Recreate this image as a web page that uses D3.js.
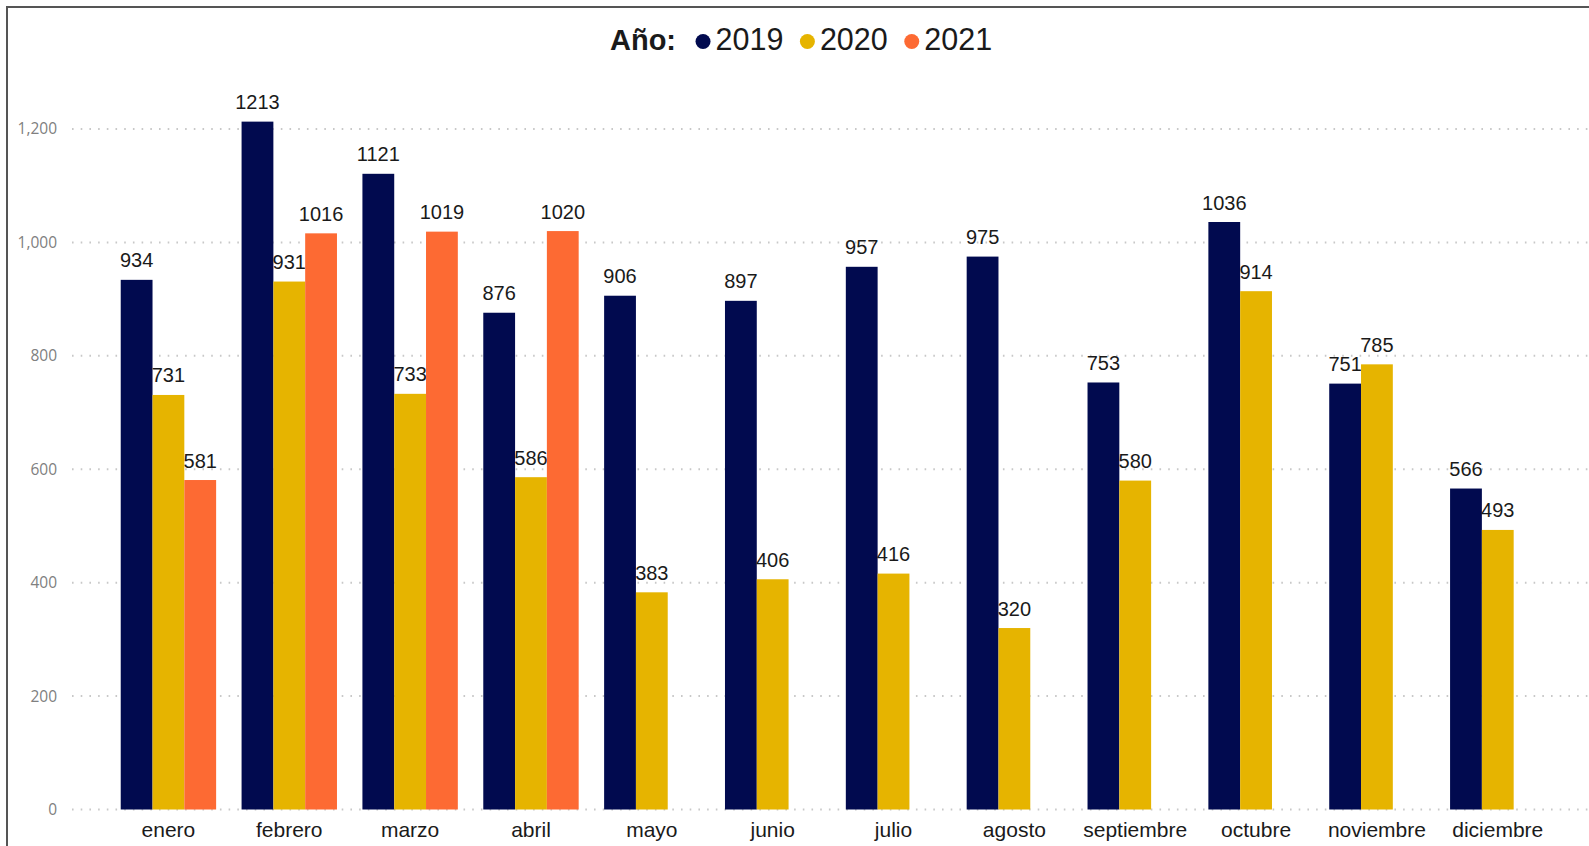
<!DOCTYPE html>
<html>
<head>
<meta charset="utf-8">
<script src="https://cdn.jsdelivr.net/npm/d3@7"></script>
<style>
  body { margin: 0; background: #fff; }
  svg { display: block; }
</style>
</head>
<body>
<div id="chart"></div>
<script>
// months (categories)
var months = ["enero", "febrero", "marzo", "abril", "mayo", "junio", "julio",
    "agosto", "septiembre", "octubre", "noviembre", "diciembre"];

// series
var years = ["2019", "2020", "2021"];
var values2019 = [934, 1213, 1121, 876, 906, 897, 957, 975, 753, 1036, 751, 566];
var values2020 = [731, 931, 733, 586, 383, 406, 416, 320, 580, 914, 785, 493];
var values2021 = [581, 1016, 1019, 1020, null, null, null, null, null, null, null, null];

// y axis ticks
var yTicks = [0, 200, 400, 600, 800, 1000, 1200];

var colors = ["#010a4f", "#e6b400", "#fd6a33"];
var series = [values2019, values2020, values2021];

var width = 1589,
    height = 846;

var svg = d3.select("#chart")
    .append("svg")
    .attr("width", width)
    .attr("height", height);

// frame (left and top border)
svg.append("line")
    .attr("x1", 7).attr("x2", width)
    .attr("y1", 7).attr("y2", 7)
    .attr("stroke", "#555").attr("stroke-width", 2);
svg.append("line")
    .attr("x1", 7).attr("x2", 7)
    .attr("y1", 6).attr("y2", height)
    .attr("stroke", "#555").attr("stroke-width", 2);

var y = d3.scaleLinear()
    .domain([0, 1200])
    .range([809.5, 129]);

var x0 = d3.scaleBand()
    .domain(months)
    .range([108, 1558.2])
    .paddingInner(0.2106)
    .paddingOuter(0.1053);

var x1 = d3.scaleBand()
    .domain(years)
    .range([0, x0.bandwidth()]);

// gridlines + tick labels
var grid = svg.append("g");
grid.selectAll("line")
    .data(yTicks)
    .enter().append("line")
    .attr("x1", 72)
    .attr("x2", width)
    .attr("y1", function (d) { return y(d); })
    .attr("y2", function (d) { return y(d); })
    .attr("stroke", "#c8c8c8")
    .attr("stroke-width", 2)
    .attr("stroke-dasharray", "1.6,7.1");

grid.selectAll("text")
    .data(yTicks)
    .enter().append("text")
    .attr("x", 57)
    .attr("y", function (d) { return y(d); })
    .attr("dy", "0.35em")
    .attr("text-anchor", "end")
    .style("font-family", "'Open Sans', sans-serif")
    .style("font-size", "15.5px")
    .style("fill", "#808080")
    .text(function (d) { return d3.format(",")(d); });

// bars
var groups = svg.selectAll("g.month")
    .data(months)
    .enter().append("g")
    .attr("class", "month")
    .attr("transform", function (d) { return "translate(" + x0(d) + ",0)"; });

var cells = groups.selectAll("g.bar")
    .data(function (m, i) {
        return years.map(function (yr, j) {
            return { year: yr, value: series[j][i], color: colors[j] };
        }).filter(function (d) { return d.value != null; });
    })
    .enter().append("g")
    .attr("class", "bar");

cells.append("rect")
    .attr("x", function (d) { return x1(d.year); })
    .attr("y", function (d) { return y(d.value); })
    .attr("width", x1.bandwidth())
    .attr("height", function (d) { return y(0) - y(d.value); })
    .style("fill", function (d) { return d.color; });

cells.append("text")
    .attr("x", function (d) { return x1(d.year) + x1.bandwidth() / 2; })
    .attr("y", function (d) { return y(d.value) - 12.5; })
    .attr("text-anchor", "middle")
    .style("font-family", "'Liberation Sans', Arial, sans-serif")
    .style("font-size", "20px")
    .style("fill", "#1a1a1a")
    .text(function (d) { return d.value; });

// x labels
svg.append("g").selectAll("text")
    .data(months)
    .enter().append("text")
    .attr("x", function (d) { return x0(d) + x0.bandwidth() / 2; })
    .attr("y", 836.5)
    .attr("text-anchor", "middle")
    .style("font-family", "'Liberation Sans', Arial, sans-serif")
    .style("font-size", "21px")
    .style("fill", "#1a1a1a")
    .text(function (d) { return d; });

// legend
var legend = svg.append("g").attr("transform", "translate(610,50)");
var title = legend.append("text")
    .attr("x", 0).attr("y", 0)
    .style("font-family", "'Liberation Sans', Arial, sans-serif")
    .style("font-size", "29px")
    .style("font-weight", "bold")
    .style("fill", "#1a1a1a")
    .text("Año:");
var lx = title.node().getComputedTextLength() + 27; // circle centre
years.forEach(function (yr, j) {
    legend.append("circle")
        .attr("cx", lx)
        .attr("cy", -8.5)
        .attr("r", 7.5)
        .style("fill", colors[j]);
    var t = legend.append("text")
        .attr("x", lx + 12.5)
        .attr("y", 0)
        .style("font-family", "'Liberation Sans', Arial, sans-serif")
        .style("font-size", "30.5px")
        .style("fill", "#1a1a1a")
        .text(yr);
    lx += 12.5 + t.node().getComputedTextLength() + 24;
});
</script>
</body>
</html>
